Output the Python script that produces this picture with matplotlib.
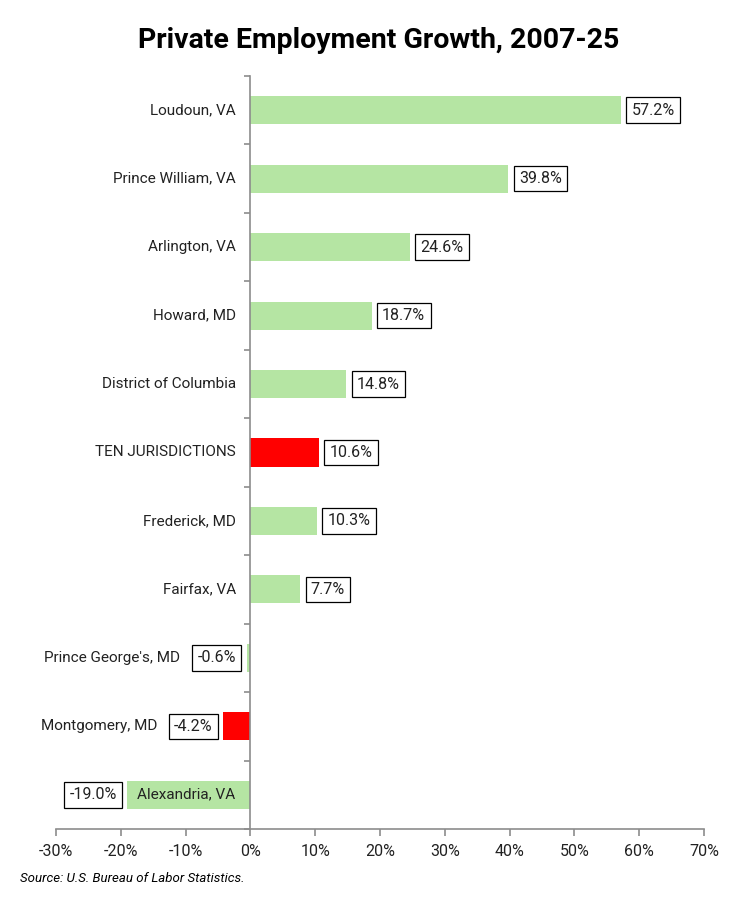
import matplotlib.pyplot as plt
import numpy as np

plt.rcParams['font.family'] = ['Roboto', 'DejaVu Sans']

# data (top to bottom)
areas = ['Loudoun, VA', 'Prince William, VA', 'Arlington, VA', 'Howard, MD',
         'District of Columbia', 'TEN JURISDICTIONS', 'Frederick, MD',
         'Fairfax, VA', "Prince George's, MD", 'Montgomery, MD', 'Alexandria, VA']
growth = [57.2, 39.8, 24.6, 18.7, 14.8, 10.6, 10.3, 7.7, -0.6, -4.2, -19.0]
highlight = ['TEN JURISDICTIONS', 'Montgomery, MD']
# where the category name ends (right edge), in % units
label_end = [-2.2, -2.2, -2.2, -2.2, -2.2, -2.2, -2.2, -2.2, -10.8, -14.4, -2.3]

green = '#b5e5a3'
red = '#ff0000'
colors = [red if a in highlight else green for a in areas]

fig = plt.figure(figsize=(7.38, 9.01), dpi=100)
ax = fig.add_axes([56/738, 1 - 829/901, 648/738, 753/901])

y = np.arange(len(areas))
ax.barh(y, growth, height=0.41, color=colors, zorder=2)

for yi, v, name, le in zip(y, growth, areas, label_end):
    ax.text(le, yi, name, ha='right', va='center', fontsize=11, color='#222222', zorder=3)
    off = 7.6 if v >= 0 else -7.6
    ax.annotate(f'{v:.1f}%', (v, yi), xytext=(off, 0), textcoords='offset points',
                ha='left' if v >= 0 else 'right', va='center', fontsize=11.5,
                color='#222222',
                bbox=dict(boxstyle='square,pad=0.33', fc='white', ec='black', lw=0.9))

ax.set_xlim(-30, 70)
ax.set_ylim(len(areas) - 0.5, -0.5)
ax.set_xticks(np.arange(-30, 71, 10))
ax.set_xticklabels([f'{t}%' for t in range(-30, 71, 10)], fontsize=11.5, color='#222222')
ax.set_yticks(np.arange(-0.5, len(areas), 1))
ax.set_yticklabels([])

for s in ['top', 'right']:
    ax.spines[s].set_visible(False)
ax.spines['left'].set_position(('data', 0))
ax.spines['left'].set_color('#8c8c8c')
ax.spines['bottom'].set_color('#8c8c8c')
ax.spines['left'].set_linewidth(1.2)
ax.spines['bottom'].set_linewidth(1.2)
ax.tick_params(axis='x', length=5, width=1.2, color='#8c8c8c', pad=6)
ax.tick_params(axis='y', length=4, width=1.2, color='#8c8c8c')

fig.text(379/738, 1 - 40/901, 'Private Employment Growth, 2007-25', ha='center', va='center',
         fontsize=20.5, fontweight='bold', color='black')
fig.text(20/738, 1 - 878/901, 'Source: U.S. Bureau of Labor Statistics.', ha='left',
         va='center', fontsize=9.5, style='italic', color='black')

fig.savefig('out.png', dpi=100)
